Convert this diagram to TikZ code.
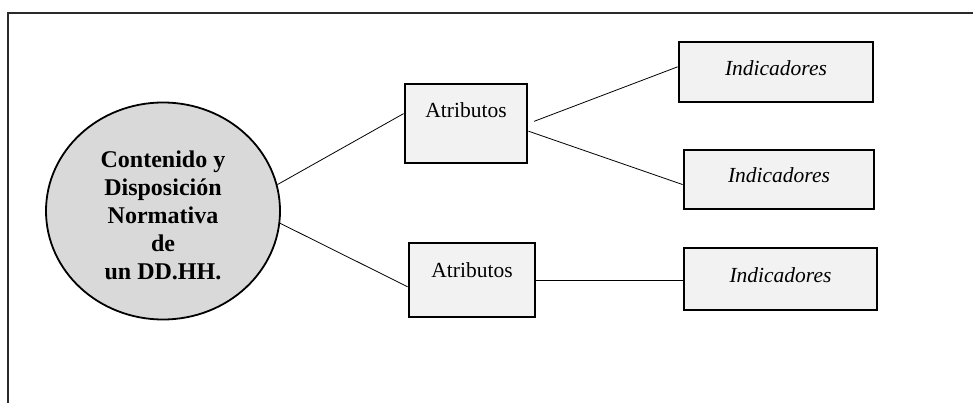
\documentclass[tikz,border=0pt]{standalone}
\usepackage{fontspec}
\setmainfont{Liberation Serif}
\usetikzlibrary{shapes.geometric}
\definecolor{boxfill}{HTML}{F2F2F2}
\definecolor{ellfill}{HTML}{D9D9D9}
\definecolor{framecol}{HTML}{2A2A2A}
\begin{document}
\begin{tikzpicture}[x=1pt,y=-1pt,
  attrbox/.style={draw, line width=2.8pt, fill=boxfill, inner ysep=0pt, inner xsep=0pt,
    font=\fontsize{21.5}{24}\selectfont, text height=34pt, anchor=center},
  indbox/.style={draw, line width=2.8pt, fill=boxfill, inner ysep=0pt, inner xsep=0pt,
    font=\fontsize{21.5}{24}\selectfont\itshape, text height=34pt, anchor=center},
  conn/.style={line width=0.8pt}]
\useasboundingbox (0,0) rectangle (973,403);
\draw[framecol, line width=2pt] (8,403) -- (8,13) -- (973,13);

\node[ellipse, draw, line width=1.8pt, fill=ellfill, minimum width=234pt, minimum height=217pt,
  inner sep=0pt, align=center, font=\fontsize{24}{28}\selectfont\bfseries] (e) at (163,211)
  {\rule{0pt}{26pt}Contenido y\\Disposición\\Normativa\\de\\un DD.HH.};

\node[attrbox, minimum width=122pt, text depth=45pt] (a1) at (466,123.5) {Atributos};
\node[attrbox, minimum width=126pt, text depth=40pt] (a2) at (472,280) {Atributos};

\node[indbox, minimum width=194pt, text depth=26pt] (i1) at (776,72) {Indicadores};
\node[indbox, minimum width=190pt, text height=33pt, text depth=26pt] (i2) at (779,179.5) {Indicadores};
\node[indbox, minimum width=193pt, text depth=28pt] (i3) at (780.5,279) {Indicadores};

\draw[conn] (e.13) -- (a1.171);
\draw[conn] (e.-6) -- (a2.186);
\draw[conn, shorten <=6pt] (a1.east) -- (i1.177);
\draw[conn] (a1.-7) -- (i2.183);
\draw[conn] (a2.east) -- (a2.east -| i3.west);
\end{tikzpicture}
\end{document}
